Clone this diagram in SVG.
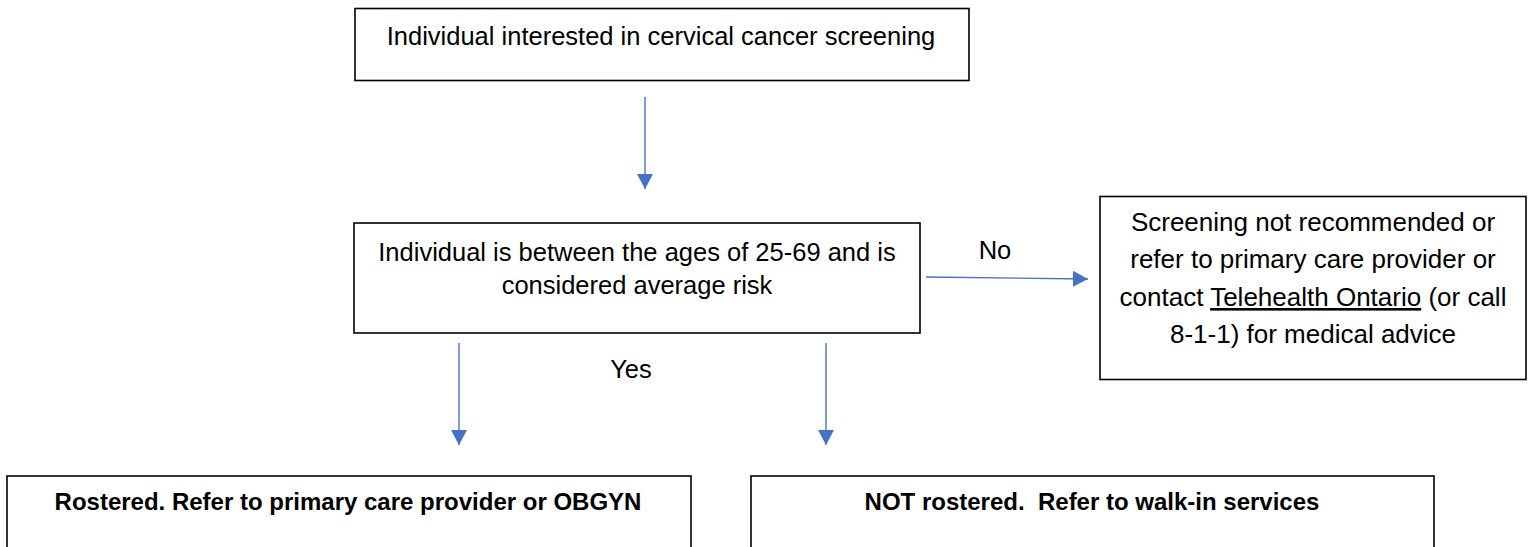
<svg xmlns="http://www.w3.org/2000/svg" width="1534" height="547" viewBox="0 0 1534 547">
<style>
.box{fill:#fff;stroke:#000;stroke-width:1.6}
.t{font-family:"Liberation Sans",Arial,sans-serif;font-size:25.5px;fill:#000;text-anchor:middle}
.t3{font-size:26px}
.b{font-weight:bold;font-size:24px}
.c{stroke:#4472C4;stroke-width:1.4;fill:none;marker-end:url(#ah)}
</style>
<defs>
<marker id="ah" markerUnits="userSpaceOnUse" markerWidth="16" markerHeight="16" refX="15" refY="8" orient="auto">
<path d="M0,0 L15,8 L0,16 Z" fill="#4472C4"/>
</marker>
</defs>
<rect width="1534" height="547" fill="#fff"/>
<g id="connectors">
<line class="c" x1="645" y1="97" x2="645" y2="189"/>
<line class="c" x1="926" y1="277" x2="1088" y2="279"/>
<line class="c" x1="459" y1="343" x2="459" y2="445"/>
<line class="c" x1="826" y1="343" x2="826" y2="445"/>
<text class="t" x="995" y="259">No</text>
<text class="t" x="631" y="378">Yes</text>
</g>
<g id="start">
<rect class="box" x="355" y="8.5" width="614" height="72"/>
<text class="t" x="661" y="45">Individual interested in cervical cancer screening</text>
</g>
<g id="age">
<rect class="box" x="354" y="223" width="566" height="110"/>
<text class="t" x="637" y="261">Individual is between the ages of 25-69 and is</text>
<text class="t" x="637" y="294">considered average risk</text>
</g>
<g id="not-recommended">
<rect class="box" x="1100" y="196.5" width="426" height="183"/>
<text class="t t3" x="1313" y="231">Screening not recommended or</text>
<text class="t t3" x="1313" y="268">refer to primary care provider or</text>
<text class="t t3" x="1313" y="306">contact <tspan text-decoration="underline">Telehealth Ontario</tspan> (or call</text>
<text class="t t3" x="1313" y="343">8-1-1) for medical advice</text>
</g>
<g id="rostered">
<rect class="box" x="7" y="476" width="684" height="100"/>
<text class="t b" x="348" y="510">Rostered. Refer to primary care provider or OBGYN</text>
</g>
<g id="not-rostered">
<rect class="box" x="751" y="476" width="683" height="100"/>
<text class="t b" x="1092" y="510" xml:space="preserve">NOT rostered.  Refer to walk-in services</text>
</g>
</svg>
